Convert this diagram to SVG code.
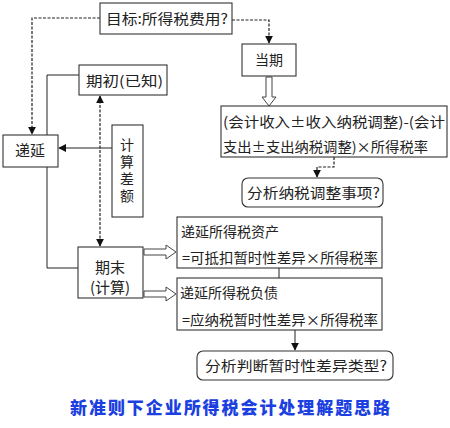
<svg xmlns="http://www.w3.org/2000/svg" width="450" height="428" viewBox="0 0 450 428">
<style>
  .box{fill:#fff;stroke:#333;stroke-width:1.1}
  .t{font-family:"Noto Sans CJK SC","Noto Sans",sans-serif;font-size:14px;fill:#222}
  .c{text-anchor:middle}
  .ln{fill:none;stroke:#222;stroke-width:1}
  .dash{stroke-dasharray:3 1.5;stroke-width:1.2}
  .hollow{fill:#fff;stroke:#444;stroke-width:1}
  .title{font-family:"Noto Sans CJK SC",sans-serif;font-size:17px;font-weight:900;fill:#1b3fe0}
</style>
<defs>
  <marker id="ah" viewBox="0 0 10 10" refX="9" refY="5" markerWidth="8" markerHeight="8" orient="auto-start-reverse" markerUnits="userSpaceOnUse">
    <path d="M0,0 L10,5 L0,10 z" fill="#111"/>
  </marker>
</defs>
<g id="connectors">
  <path class="ln dash" d="M100,18 H32 V134" marker-end="url(#ah)"/>
  <path class="ln dash" d="M232,20 H269 V43" marker-end="url(#ah)"/>
  <path class="ln dash" d="M334,157 V167 H317 V177" marker-end="url(#ah)"/>
  <path class="ln" d="M79,75 H47 V135"/>
  <path class="ln" d="M47,167 V268 H78"/>
  <path class="ln dash" d="M100,96 V246" marker-start="url(#ah)" marker-end="url(#ah)"/>
  <path class="ln" d="M112,148 H59" stroke-width="1.2" marker-end="url(#ah)"/>
  <path class="ln" d="M279,268 V306 H295 V350" marker-end="url(#ah)"/>
  <polygon class="hollow" points="266,77 272,77 272,97 276,97 269,106 262,97 266,97"/>
  <polygon class="hollow" points="144,249 166,249 166,245 176,252 166,259 166,255 144,255"/>
  <polygon class="hollow" points="144,291 166,291 166,287 176,294 166,301 166,297 144,297"/>
</g>
<g id="target">
  <rect class="box" x="100" y="3" width="132" height="31"/>
  <text class="t" x="106" y="24" textLength="122" lengthAdjust="spacingAndGlyphs">目标:所得税费用?</text>
</g>
<g id="current">
  <rect class="box" x="242" y="44" width="54" height="32"/>
  <text class="t c" x="269" y="65">当期</text>
</g>
<g id="formula">
  <rect class="box" x="221" y="106" width="226" height="51"/>
  <text class="t" x="223" y="127" textLength="222" lengthAdjust="spacingAndGlyphs">(会计收入±收入纳税调整)-(会计</text>
  <text class="t" x="223" y="152" textLength="205" lengthAdjust="spacingAndGlyphs">支出±支出纳税调整)×所得税率</text>
</g>
<g id="analyze1">
  <rect class="box" x="242" y="178" width="141" height="29" rx="6"/>
  <text class="t" x="247" y="198" textLength="133" lengthAdjust="spacingAndGlyphs">分析纳税调整事项?</text>
</g>
<g id="begin">
  <rect class="box" x="79" y="65" width="88" height="30"/>
  <text class="t" x="86" y="86" textLength="77" lengthAdjust="spacingAndGlyphs">期初(已知)</text>
</g>
<g id="deferred">
  <rect class="box" x="3" y="135" width="55" height="32"/>
  <text class="t c" x="30" y="156" style="font-size:15px">递延</text>
</g>
<g id="diff">
  <rect class="box" x="112" y="125" width="31" height="92"/>
  <text class="t" x="127" y="138" style="writing-mode:vertical-rl;letter-spacing:3px">计算差额</text>
</g>
<g id="end">
  <rect class="box" x="78" y="247" width="65" height="51"/>
  <text class="t c" x="110" y="273" style="font-size:15px">期末</text>
  <text class="t c" x="110" y="293" style="font-size:15px">(计算)</text>
</g>
<g id="asset">
  <rect class="box" x="177" y="217" width="205" height="51"/>
  <text class="t" x="181" y="237">递延所得税资产</text>
  <text class="t" x="182" y="263" textLength="196" lengthAdjust="spacingAndGlyphs">=可抵扣暂时性差异×所得税率</text>
</g>
<g id="liability">
  <rect class="box" x="177" y="278" width="205" height="52"/>
  <text class="t" x="180" y="298">递延所得税负债</text>
  <text class="t" x="182" y="325" textLength="196" lengthAdjust="spacingAndGlyphs">=应纳税暂时性差异×所得税率</text>
</g>
<g id="analyze2">
  <rect class="box" x="197" y="351" width="196" height="29" rx="6"/>
  <text class="t" x="205" y="371" textLength="182" lengthAdjust="spacingAndGlyphs">分析判断暂时性差异类型?</text>
</g>
<g id="title">
  <text class="title" x="70" y="414" textLength="320" lengthAdjust="spacing">新准则下企业所得税会计处理解题思路</text>
</g>
</svg>
